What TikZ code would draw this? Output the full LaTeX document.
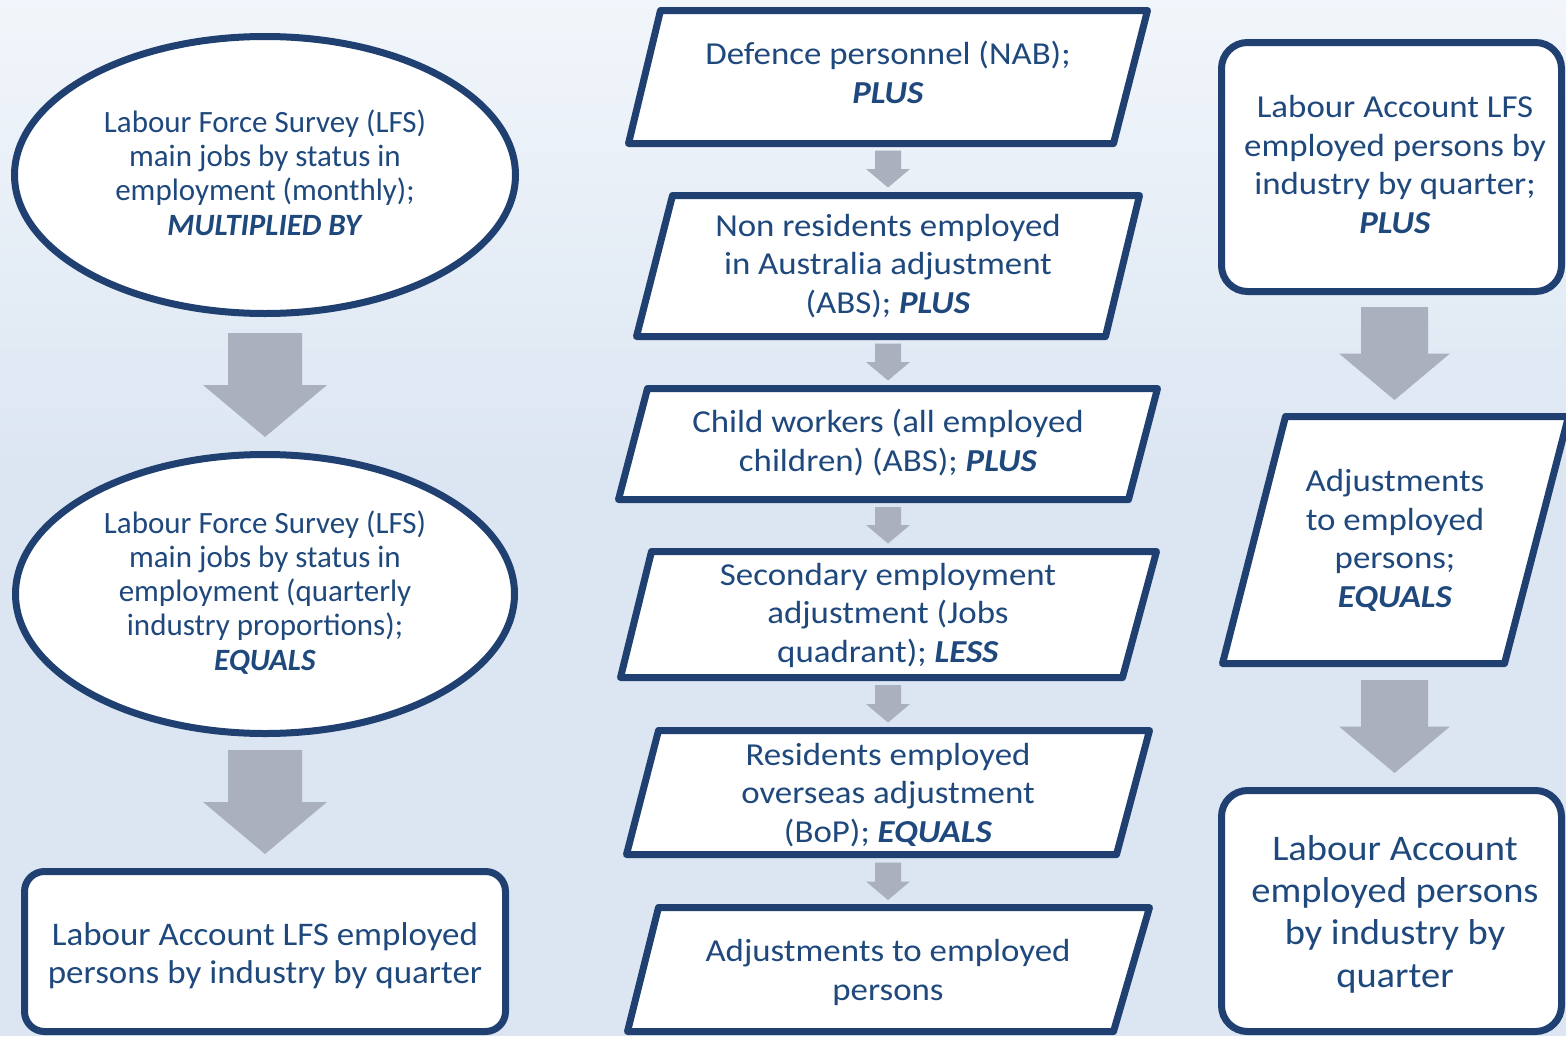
\documentclass[tikz,border=0pt]{standalone}
\usepackage{fontspec}
\setmainfont{Carlito}
\newfontfamily\fmid[FakeStretch=1.09]{Carlito}
\newfontfamily\fell{Carlito}
\newfontfamily\fbl[FakeStretch=1.06]{Carlito}
\newfontfamily\fbig[FakeStretch=1.07]{Carlito}
\usetikzlibrary{shapes.geometric,calc}
\definecolor{navy}{HTML}{1F4070}
\definecolor{txtblue}{HTML}{1F497D}
\definecolor{agray}{HTML}{AAB0BE}
\definecolor{bgtop}{HTML}{F7FAFD}
\definecolor{bgbot}{HTML}{DCE6F2}
\newcommand\opword[1]{\textbf{\textit{#1}}}
% block arrow: from, to, shaft half width, head half width, head length, top gap, bottom gap
\newcommand\blockarrow[7]{%
  \fill[agray] let \p1=(#1), \p2=(#2) in
   (\x1-#3pt,\y1-#6pt) -- (\x1+#3pt,\y1-#6pt) -- (\x1+#3pt,\y2+#7pt+#5pt) --
   (\x1+#4pt,\y2+#7pt+#5pt) -- (\x1,\y2+#7pt) -- (\x1-#4pt,\y2+#7pt+#5pt) --
   (\x1-#3pt,\y2+#7pt+#5pt) -- cycle;}
\tikzset{
  shapeline/.style={draw=navy, line width=7pt, fill=white, line join=round},
  ell/.style={shapeline, ellipse, inner sep=0pt, outer sep=3.5pt},
  rbox/.style={shapeline, rectangle, rounded corners=#1, inner sep=0pt, outer sep=3.5pt},
  rbox/.default=20pt,
  tbase/.style={text=txtblue, align=center, inner sep=0pt, anchor=base},
  tmid/.style={tbase, font=\fmid\fontsize{32}{38.5}\selectfont},
  tell/.style={tbase, font=\fell\fontsize{31}{34.2}\selectfont},
  tbl/.style={tbase, font=\fbl\fontsize{33}{38}\selectfont},
  tbig/.style={tbase, font=\fbig\fontsize{36}{42.3}\selectfont},
}
\begin{document}
\begin{tikzpicture}[x=1pt,y=-1pt]
\useasboundingbox (0,0) rectangle (1566,1036);
\clip (0,0) rectangle (1566,1036);
% background
\fill[bgbot] (0,0) rectangle (1566,1036);
\shade[top color=bgtop, bottom color=bgbot] (0,-130) rectangle (1566,470);

% ---------- left column ----------
\node[ell, minimum width=501pt, minimum height=277pt] (e1) at (265,175) {};
\node[tell] (e1t) at (265,235) {Labour Force Survey (LFS)\\main jobs by status in\\employment (monthly);\\\opword{MULTIPLIED BY}};
\node[ell, minimum width=499pt, minimum height=279pt] (e2) at (265,594) {};
\node[tell] (e2t) at (265,670) {Labour Force Survey (LFS)\\main jobs by status in\\employment (quarterly\\industry proportions);\\\opword{EQUALS}};
\node[rbox=20pt, minimum width=481pt, minimum height=160pt] (bl) at (265,951.5) {};
\node[tbl] (blt) at (265,983) {Labour Account LFS employed\\persons by industry by quarter};

\blockarrow{e1.south}{e2.north}{37}{62}{52}{16}{14}
\blockarrow{e2.south}{bl.north}{37}{62}{52}{13}{14}

% ---------- middle column ----------
\draw[shapeline] (660.5,10.5) -- (1147.5,10.5) -- (1113.5,143.5) -- (628.5,143.5) -- cycle;
\coordinate (p1n) at (888,7); \coordinate (p1s) at (888,147);
\node[tmid] (p1t) at (888,103) {Defence personnel (NAB);\\\opword{PLUS}};

\draw[shapeline] (672.5,195.5) -- (1139.5,195.5) -- (1105.5,336.5) -- (636.5,336.5) -- cycle;
\coordinate (p2n) at (888,192); \coordinate (p2s) at (888,340);
\node[tmid] (p2t) at (888,313) {Non residents employed\\in Australia adjustment\\(ABS); \opword{PLUS}};

\draw[shapeline] (647.5,388.5) -- (1157.5,388.5) -- (1128.5,499.5) -- (618.5,499.5) -- cycle;
\coordinate (p3n) at (888,385); \coordinate (p3s) at (888,503);
\node[tmid] (p3t) at (888,471) {Child workers (all employed\\children) (ABS); \opword{PLUS}};

\draw[shapeline] (651.5,551.5) -- (1156.5,551.5) -- (1122.5,677.5) -- (620.5,677.5) -- cycle;
\coordinate (p4n) at (888,548); \coordinate (p4s) at (888,681);
\node[tmid] (p4t) at (888,662) {Secondary employment\\adjustment (Jobs\\quadrant); \opword{LESS}};

\draw[shapeline] (658.5,730.5) -- (1149.5,730.5) -- (1116.5,854.5) -- (626.5,854.5) -- cycle;
\coordinate (p5n) at (888,727); \coordinate (p5s) at (888,858);
\node[tmid] (p5t) at (888,842) {Residents employed\\overseas adjustment\\(BoP); \opword{EQUALS}};

\draw[shapeline] (658.5,907.5) -- (1149.5,907.5) -- (1113.5,1031.5) -- (627.5,1031.5) -- cycle;
\coordinate (p6n) at (888,904); \coordinate (p6s) at (888,1035);
\node[tmid] (p6t) at (888,1000) {Adjustments to employed\\persons};

\blockarrow{p1s}{p2n}{13}{22}{18.5}{3.5}{4.5}
\blockarrow{p2s}{p3n}{13}{22}{18.5}{3.5}{4.5}
\blockarrow{p3s}{p4n}{13}{22}{18.5}{4}{4.5}
\blockarrow{p4s}{p5n}{13}{22}{18.5}{4}{4.5}
\blockarrow{p5s}{p6n}{13}{22}{18.5}{4.5}{4}

% ---------- right column ----------
\node[rbox=26pt, minimum width=340pt, minimum height=249pt] (r1) at (1391.5,167) {};
\node[tmid] (r1t) at (1395,233) {Labour Account LFS\\employed persons by\\industry by quarter;\\\opword{PLUS}};

\draw[shapeline] (1285.5,416.5) -- (1568.5,416.5) -- (1504.5,663.5) -- (1222.5,663.5) -- cycle;
\coordinate (rpn) at (1394.5,413); \coordinate (rps) at (1394.5,667);
\node[tmid] (rpt) at (1395,607) {Adjustments\\to employed\\persons;\\\opword{EQUALS}};

\node[rbox=26pt, minimum width=340pt, minimum height=241pt] (r2) at (1391.5,911) {};
\node[tbig] (r2t) at (1395,987) {Labour Account\\employed persons\\by industry by\\quarter};

\blockarrow{r1.south -| rpn}{rpn}{33.5}{55.5}{46.5}{12}{13}
\blockarrow{rps}{r2.north -| rps}{33.5}{55.5}{46.5}{13}{14}
\end{tikzpicture}
\end{document}
